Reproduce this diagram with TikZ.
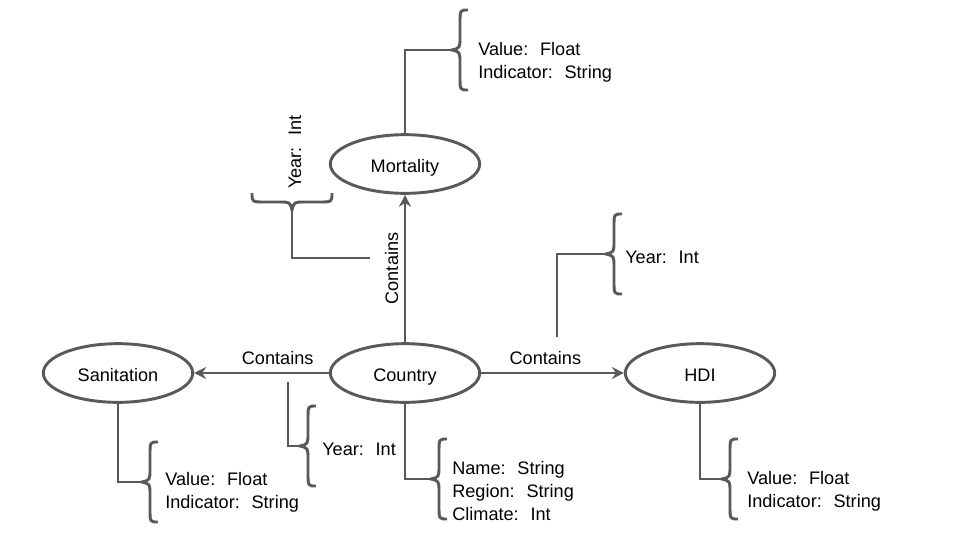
\documentclass[tikz,border=0pt]{standalone}
\usepackage{fontspec}
\setmainfont{Liberation Sans}
\usetikzlibrary{arrows.meta,shapes.geometric}
\definecolor{lg}{HTML}{595959}
\newcommand\bracel[3]{%
\draw[ln] (#1+16,#2-#3) .. controls (#1+8,#2-#3) .. (#1+8,#2-#3+13) -- (#1+8,#2-13) .. controls (#1+8,#2-2) .. (#1,#2) .. controls (#1+8,#2+2) .. (#1+8,#2+13) -- (#1+8,#2+#3-13) .. controls (#1+8,#2+#3) .. (#1+16,#2+#3);}
\newcommand\braced[3]{%
\draw[ln] (#1-#3,#2-17) .. controls (#1-#3,#2-8) .. (#1-#3+13,#2-8) -- (#1-13,#2-8) .. controls (#1-2,#2-8) .. (#1,#2) .. controls (#1+2,#2-8) .. (#1+13,#2-8) -- (#1+#3-13,#2-8) .. controls (#1+#3,#2-8) .. (#1+#3,#2-17);}
\begin{document}
\begin{tikzpicture}[x=0.75pt,y=-0.75pt,
  ln/.style={draw=lg,line width=2.2pt},
  ent/.style={ellipse,draw=lg,line width=2.2pt,minimum width=112pt,minimum height=44pt,inner sep=0pt,text height=12pt,text depth=0pt,font=\fontsize{13.6}{16}\selectfont},
  txt/.style={font=\fontsize{13.6}{17.3}\selectfont,align=left,inner sep=0pt},
  arr/.style={ln,-{Stealth[length=9pt,width=9pt,inset=3pt]}}]
\useasboundingbox (0,0) rectangle (960,540);
\node[ent] (country) at (405,373) {Country};
\node[ent] (san) at (118,373) {Sanitation};
\node[ent] (hdi) at (700,373) {HDI};
\node[ent] (mort) at (405,164) {Mortality};
% main arrows
\draw[arr] (country) -- (mort) node[txt,midway,rotate=90,above=4pt] {Contains};
\draw[arr] (country) -- (san) node[txt,pos=0.38,above=5pt] {Contains};
\draw[arr] (country) -- (hdi) node[txt,pos=0.45,above=5pt] {Contains};
% brace tips
\coordinate (tm) at (452,50);
\coordinate (thy) at (606,254);
\coordinate (ts) at (142,482);
\coordinate (tsy) at (300,446);
\coordinate (tc) at (431,479);
\coordinate (th) at (722,479);
\coordinate (tmy) at (292,210);
% free ends
\coordinate (fhy) at (557,337);
\coordinate (fsy) at (288,382);
\coordinate (fmy) at (370,258);
% braces
\bracel{452}{50}{40}
\bracel{606}{254}{40}
\bracel{142}{482}{40}
\bracel{300}{446}{40}
\bracel{431}{479}{40}
\bracel{722}{479}{40}
\braced{292}{210}{40}
% connector lines
\draw[ln] (mort.north) |- (tm);
\draw[ln] (fhy) |- (thy);
\draw[ln] (san.south) |- (ts);
\draw[ln] (fsy) |- (tsy);
\draw[ln] (country.south) |- (tc);
\draw[ln] (hdi.south) |- (th);
\draw[ln] (fmy) -| (tmy);
% attribute texts
\node[txt,anchor=west] (am) at (478,62) {Value:~ Float\\Indicator:~ String};
\node[txt,rotate=90] (amy) at (295,152) {Year:~ Int};
\node[txt,anchor=west] (ahy) at (625,257) {Year:~ Int};
\node[txt,anchor=west] (as) at (165,492) {Value:~ Float\\Indicator:~ String};
\node[txt,anchor=west] (asy) at (322,449) {Year:~ Int};
\node[txt,anchor=west] (ac) at (452,491) {Name:~ String\\Region:~ String\\Climate:~ Int};
\node[txt,anchor=west] (ah) at (747,491) {Value:~ Float\\Indicator:~ String};
\end{tikzpicture}
\end{document}
